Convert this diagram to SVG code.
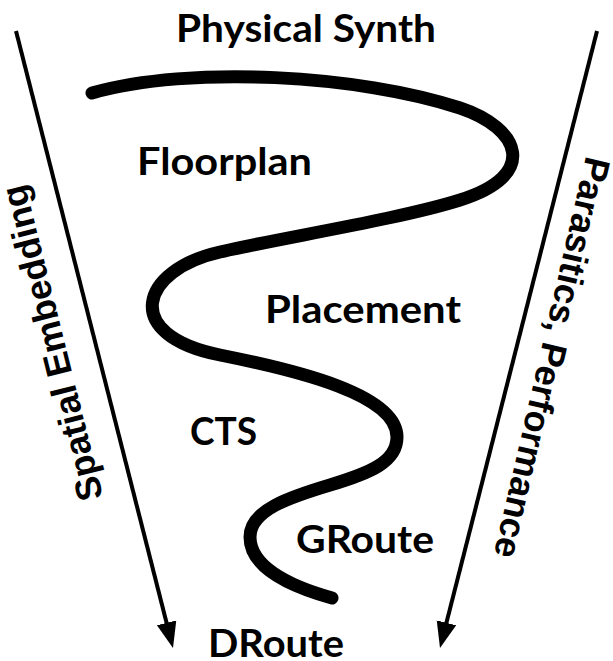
<svg xmlns="http://www.w3.org/2000/svg" width="613" height="661" viewBox="0 0 613 661">
  <style>
    .stage { font-family: Lato, "Liberation Sans", sans-serif; font-weight: 700; font-size: 38px; fill: #000; }
    .side { font-family: "Liberation Sans", Arial, sans-serif; font-weight: 700; font-size: 36px; fill: #000; }
    .axis { stroke: #000; stroke-width: 4; fill: none; }
    .spiral { stroke: #000; stroke-width: 13; fill: none; stroke-linecap: round; stroke-linejoin: round; }
  </style>
  <defs>
    <marker id="head" markerUnits="userSpaceOnUse" markerWidth="28" markerHeight="22" refX="11" refY="10" orient="auto">
      <path d="M0,0 L26,10 L0,20 Z" fill="#000"/>
    </marker>
  </defs>
  <rect width="613" height="661" fill="#fff"/>
  <g id="connectors">
    <line class="axis" x1="16" y1="31" x2="169.3" y2="633.5" marker-end="url(#head)"/>
    <line class="axis" x1="597" y1="31" x2="443.7" y2="633.5" marker-end="url(#head)"/>
    <path class="spiral" d="M92,93 C190,65 360,75 460,108 C520,128 540,175 460,200 C400,219 280,238 220,252 C140,270 120,335 220,355 C300,371 397,395 397,437 C397,462 370,473 330,485 C290,497 250,510 250,537 C250,565 285,585 332,598"/>
  </g>
  <g id="physical-synth"><text class="stage" x="176" y="42" font-size="40" textLength="260" lengthAdjust="spacingAndGlyphs">Physical Synth</text></g>
  <g id="floorplan"><text class="stage" x="137" y="175" textLength="175" lengthAdjust="spacingAndGlyphs">Floorplan</text></g>
  <g id="placement"><text class="stage" x="265" y="323" textLength="196" lengthAdjust="spacingAndGlyphs">Placement</text></g>
  <g id="cts"><text class="stage" x="190" y="445" textLength="67" lengthAdjust="spacingAndGlyphs">CTS</text></g>
  <g id="groute"><text class="stage" x="296" y="553" textLength="138" lengthAdjust="spacingAndGlyphs">GRoute</text></g>
  <g id="droute"><text class="stage" x="208" y="657" textLength="136" lengthAdjust="spacingAndGlyphs">DRoute</text></g>
  <g id="spatial-embedding"><text class="side" text-anchor="middle" transform="translate(64,340) rotate(-104)">Spatial Embedding</text></g>
  <g id="parasitics-performance"><text class="side" text-anchor="middle" transform="translate(540,355) rotate(103)">Parasitics, Performance</text></g>
</svg>
